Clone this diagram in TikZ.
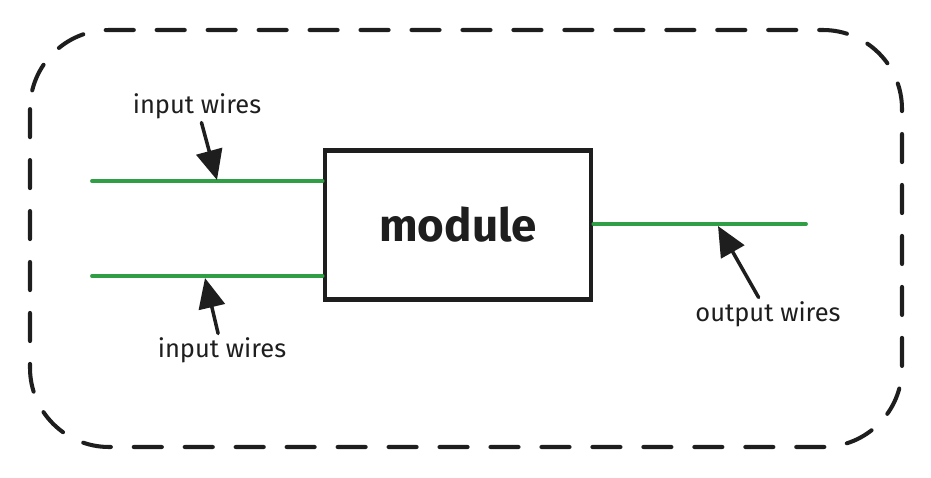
\documentclass[tikz,border=0pt]{standalone}
\usepackage{xcolor}
\usepackage{fontspec}
\setmainfont{Fira Sans}
\usetikzlibrary{arrows.meta,positioning}
\definecolor{ink}{HTML}{1E1E1E}
\definecolor{wire}{HTML}{2F9E44}

\begin{document}
\begin{tikzpicture}[
		x=0.2mm,y=-0.2mm,
		wireline/.style={draw=wire,line width=2.2pt,line cap=round},
		pointer/.style={draw=ink,line width=2pt,line cap=round,-{Triangle[length=17pt,width=15pt]}},
		tag/.style={text=ink,font=\fontsize{14.5}{17}\selectfont,inner sep=2pt}]
		\useasboundingbox (0,0) rectangle (931,477);
		\draw [ink, line width=2.3pt, line cap=round, dash pattern=on 16pt off 13pt, rounded corners=45pt] (30,30) rectangle (902,447);
		\node [draw=ink, line width=2.6pt, minimum width=151.5pt, minimum height=85pt, text=ink, font=\fontsize{26}{30}\selectfont\bfseries](mod) at (458,225){module};
		\coordinate (in1) at (92,181);
		\coordinate (in2) at (92,276);
		\coordinate (out) at (806,224);
		\draw [wireline] (in1) -- (mod.west |- in1);
		\draw [wireline] (in2) -- (mod.west |- in2);
		\draw [wireline] (mod.east |- out) -- (out);
		\coordinate (t1) at (217,180);
		\coordinate (t2) at (205,278);
		\coordinate (t3) at (718,226);
		\node [tag](la) at (197,106){input wires};
		\node [tag](lb) at (222,350){input wires};
		\node [tag](lc) at (768,314){output wires};
		\draw [pointer] (la) -- (t1);
		\draw [pointer] (lb) -- (t2);
		\draw [pointer] (lc) -- (t3);
		\end{tikzpicture}
\end{document}
